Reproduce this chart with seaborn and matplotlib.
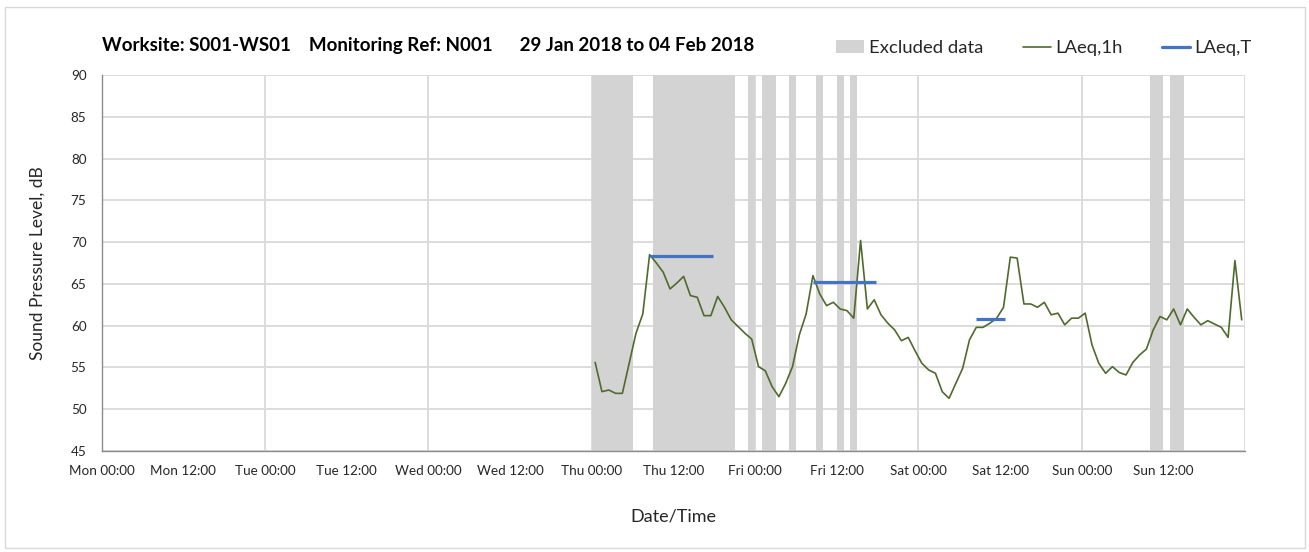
import numpy as np
import pandas as pd
import matplotlib
matplotlib.use("Agg")
import matplotlib.pyplot as plt
import seaborn as sns
from matplotlib.patches import Patch, Rectangle
from matplotlib.lines import Line2D

# ---- data -------------------------------------------------------------
title_text = ("Worksite: S001-WS01    Monitoring Ref: N001      "
              "29 Jan 2018 to 04 Feb 2018")

# hourly LAeq values, first hour beginning Thu 00:00 (hour 72 of the week)
series_start_hour = 72
laeq_1h = [
    55.6, 52.1, 52.3, 51.9, 51.9, 55.5, 59.1, 61.4, 68.5, 67.5,
    66.4, 64.4, 65.1, 65.9, 63.6, 63.4, 61.2, 61.2, 63.5, 62.2,
    60.7, 59.9, 59.1, 58.4, 55.1, 54.6, 52.7, 51.5, 53.1, 55.1,
    58.9, 61.4, 66.0, 63.8, 62.4, 62.8, 62.0, 61.8, 60.9, 70.2,
    62.0, 63.1, 61.3, 60.3, 59.5, 58.2, 58.6, 57.0, 55.5, 54.7,
    54.3, 52.1, 51.3, 53.1, 54.9, 58.3, 59.8, 59.8, 60.3, 60.9,
    62.2, 68.2, 68.1, 62.6, 62.6, 62.2, 62.8, 61.3, 61.5, 60.1,
    60.9, 60.9, 61.5, 57.7, 55.5, 54.3, 55.1, 54.4, 54.1, 55.6,
    56.5, 57.2, 59.5, 61.1, 60.7, 62.0, 60.1, 62.0, 61.0, 60.1,
    60.6, 60.2, 59.8, 58.6, 67.8, 60.7,
]

# period LAeq,T (hours since Mon 00:00)
laeq_t_start = [80.5, 104.5, 128.5]
laeq_t_end = [89.75, 113.8, 132.7]
laeq_t_value = [68.4, 65.25, 60.8]

# excluded data windows (hours since Mon 00:00)
excluded_start = [72, 81, 95, 97, 101, 105, 108, 110, 154, 157]
excluded_end = [78, 93, 96, 99, 102, 106, 109, 111, 156, 159]

tick_hours = list(range(0, 169, 12))
tick_labels = ["Mon 00:00", "Mon 12:00", "Tue 00:00", "Tue 12:00",
               "Wed 00:00", "Wed 12:00", "Thu 00:00", "Thu 12:00",
               "Fri 00:00", "Fri 12:00", "Sat 00:00", "Sat 12:00",
               "Sun 00:00", "Sun 12:00", ""]
y_ticks = list(range(45, 91, 5))

# ---- styling ----------------------------------------------------------
sns.set_theme(style="white")
plt.rcParams['font.family'] = ['Lato', 'DejaVu Sans']

green = "#4F6B2C"
blue = "#4472C4"
band_grey = "#D3D3D3"
grid_grey = "#D9D9D9"
axis_grey = "#8C8C8C"
text_col = "#262626"

fig = plt.figure(figsize=(13.09, 5.52), dpi=100)
ax = fig.add_axes([0.0777, 0.183, 0.8735, 0.681])

# outer chart frame
fig.patches.append(Rectangle((0.0035, 0.008), 0.9935, 0.98,
                             transform=fig.transFigure, fill=False,
                             edgecolor=grid_grey, linewidth=1.0))

# excluded data shading
for s, e in zip(excluded_start, excluded_end):
    ax.axvspan(s, e, color=band_grey, linewidth=0, zorder=1)

# grid: horizontal every 5 dB, vertical at each midnight
for y in y_ticks:
    ax.axhline(y, color=grid_grey, linewidth=1.3, zorder=0.5)
for d in range(0, 169, 24):
    ax.axvline(d, color=grid_grey, linewidth=1.3, zorder=0.5)

# hourly series
df = pd.DataFrame({
    "hour": series_start_hour + np.arange(len(laeq_1h)) + 0.5,
    "laeq": laeq_1h,
})
sns.lineplot(data=df, x="hour", y="laeq", color=green, linewidth=1.2,
             ax=ax, zorder=3)

# period values
ax.hlines(laeq_t_value, laeq_t_start, laeq_t_end, color=blue,
          linewidth=2.3, zorder=4)

ax.set_xlim(0, 168)
ax.set_ylim(45, 90)
ax.set_xticks(tick_hours)
ax.set_xticklabels(tick_labels)
ax.set_yticks(y_ticks)

for side in ("top", "right"):
    ax.spines[side].set_visible(False)
for side in ("left", "bottom"):
    ax.spines[side].set_color(axis_grey)
    ax.spines[side].set_linewidth(1.0)

ax.tick_params(axis="both", which="major", direction="out", length=4,
               width=1.0, color=axis_grey, labelsize=9.7,
               labelcolor=text_col)
ax.tick_params(axis="x", pad=6)
ax.tick_params(axis="y", pad=7)

ax.set_xlabel("Date/Time", fontsize=13, color=text_col, labelpad=23)
ax.set_ylabel("Sound Pressure Level, dB", fontsize=12.5, color=text_col,
              labelpad=18)

fig.text(0.0777, 0.918, title_text, fontsize=13.5, fontweight="bold",
         color="#000000", ha="left", va="center")

handles = [
    Patch(facecolor=band_grey, edgecolor="none", label="Excluded data"),
    Line2D([], [], color=green, linewidth=1.2, label="LAeq,1h"),
    Line2D([], [], color=blue, linewidth=2.3, label="LAeq,T"),
]
fig.legend(handles=handles, loc="center right",
           bbox_to_anchor=(0.969, 0.913), ncol=3, frameon=False,
           fontsize=13.3, handlelength=1.5, handletextpad=0.25,
           columnspacing=2.15, labelcolor=text_col)

fig.savefig("out.png", dpi=100)
